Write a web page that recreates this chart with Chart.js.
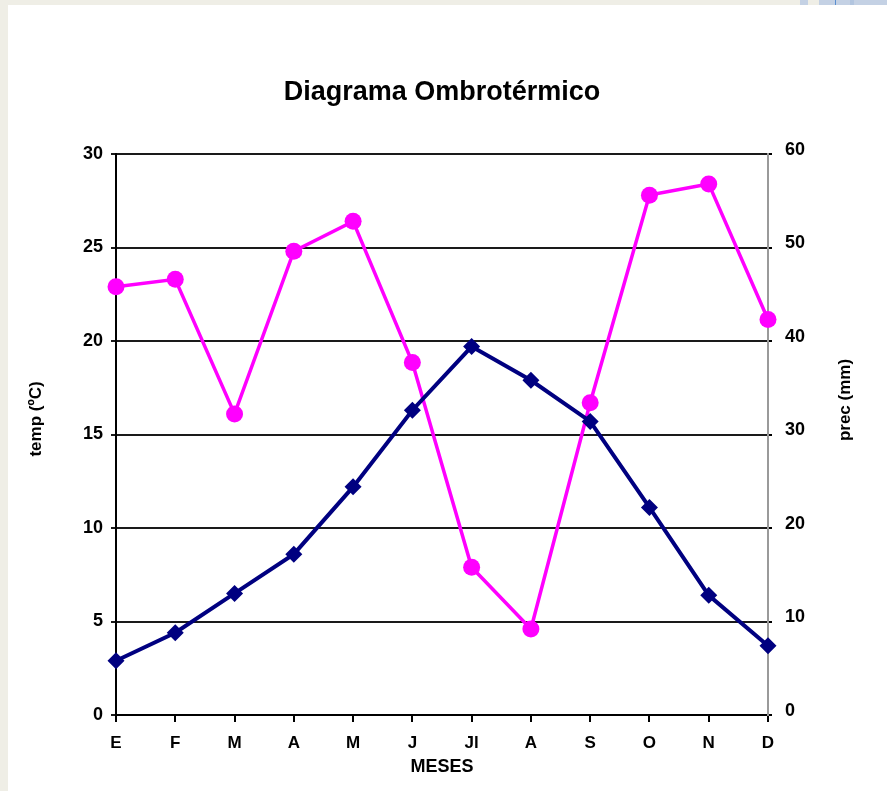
<!DOCTYPE html>
<html lang="es">
<head>
<meta charset="utf-8">
<title>Diagrama Ombrotérmico</title>
<script src="https://cdn.jsdelivr.net/npm/chart.js@4/dist/chart.umd.min.js"></script>
<style>
  html, body { margin: 0; padding: 0; }
  body { width: 887px; height: 791px; background: #efeee6; position: relative; overflow: hidden; }
  #panel { position: absolute; left: 8px; top: 5px; right: 0; bottom: 0; background: #ffffff; }
  .tab { position: absolute; top: 0; height: 5px; background: #c4d1e4; }
  #c { position: absolute; left: 0; top: 0; }
</style>
</head>
<body>
<div id="panel"></div>
<div class="tab" style="left:800px;width:8px"></div>
<div class="tab" style="left:819px;width:68px"></div>
<div class="tab" style="left:835px;width:1px;background:#5a8fd0"></div>
<div class="tab" style="left:850px;width:4px;background:#b2c5df"></div>
<canvas id="c" width="887" height="791"></canvas>
<script>
// Months of the year (Spanish initials)
const months = ['E', 'F', 'M', 'A', 'M', 'J', 'Jl', 'A', 'S', 'O', 'N', 'D'];
// Mean monthly temperature, °C (left axis)
const temperature = [2.9, 4.4, 6.5, 8.6, 12.2, 16.3, 19.7, 17.9, 15.7, 11.1, 6.4, 3.7];
// Monthly precipitation, mm (right axis)
const precipitation = [45.8, 46.6, 32.2, 49.6, 52.8, 37.7, 15.8, 9.2, 33.4, 55.6, 56.8, 42.3];
// Axis ranges
const tempTicks = { min: 0, max: 30, step: 5 };
const precTicks = { min: 0, max: 60, step: 10 };

const FONT = '"Liberation Sans", Arial, Helvetica, sans-serif';
const INK = '#000000';

// Rotated captions for the two value axes, both reading bottom to top
const axisCaptions = {
  id: 'axisCaptions',
  afterDraw(chart) {
    const ctx = chart.ctx;
    const items = [
      { text: 'temp (ºC)', x: 36, y: 419 },
      { text: 'prec (mm)', x: 845, y: 400 }
    ];
    ctx.save();
    ctx.fillStyle = INK;
    ctx.font = 'bold 17px ' + FONT;
    ctx.textAlign = 'center';
    ctx.textBaseline = 'middle';
    for (const it of items) {
      ctx.save();
      ctx.translate(it.x, it.y);
      ctx.rotate(-Math.PI / 2);
      ctx.fillText(it.text, 0, 0);
      ctx.restore();
    }
    ctx.restore();
  }
};

new Chart(document.getElementById('c'), {
  type: 'line',
  data: {
    labels: months,
    datasets: [
      {
        label: 'temp',
        data: temperature,
        yAxisID: 'y',
        borderColor: '#000080',
        backgroundColor: '#000080',
        borderWidth: 4,
        pointStyle: 'rectRot',
        pointRadius: 8.5,
        pointBorderWidth: 0,
        tension: 0,
        clip: false
      },
      {
        label: 'prec',
        data: precipitation,
        yAxisID: 'y1',
        borderColor: '#ff00ff',
        backgroundColor: '#ff00ff',
        borderWidth: 3.5,
        pointStyle: 'circle',
        pointRadius: 8.5,
        pointBorderWidth: 0,
        tension: 0,
        clip: false
      }
    ]
  },
  options: {
    responsive: false,
    animation: false,
    devicePixelRatio: 1,
    layout: { padding: { left: 26, right: 0, top: 76, bottom: 12 } },
    plugins: {
      legend: { display: false },
      tooltip: { enabled: false },
      title: {
        display: true,
        fullSize: false,
        text: 'Diagrama Ombrotérmico',
        color: INK,
        font: { family: FONT, size: 27, weight: 'bold', lineHeight: 1.2 },
        padding: { top: 0, bottom: 45.6 }
      }
    },
    scales: {
      x: {
        type: 'category',
        offset: false,
        afterFit(scale) { scale.height = 64; },
        border: { display: true, color: INK, width: 2 },
        grid: { display: true, drawOnChartArea: false, drawTicks: true, tickLength: 7, color: INK, lineWidth: 2 },
        ticks: { color: INK, padding: 11, maxRotation: 0, autoSkip: false, font: { family: FONT, size: 17, weight: 'bold' } },
        title: { display: true, text: 'MESES', color: INK, padding: { top: 0, bottom: 1 }, font: { family: FONT, size: 18, weight: 'bold', lineHeight: 1.2 } }
      },
      y: {
        position: 'left',
        min: tempTicks.min,
        max: tempTicks.max,
        afterFit(scale) { scale.width = 90; },
        border: { display: true, color: INK, width: 2 },
        grid: { display: true, drawOnChartArea: true, drawTicks: true, tickLength: 5, color: '#1a1a1a', lineWidth: 2 },
        ticks: { stepSize: tempTicks.step, color: INK, padding: 8, font: { family: FONT, size: 18, weight: 'bold' } }
      },
      y1: {
        position: 'right',
        min: precTicks.min,
        max: precTicks.max,
        afterFit(scale) { scale.width = 119; },
        border: { display: true, color: '#9a9a9a', width: 2 },
        grid: { display: true, drawOnChartArea: false, drawTicks: true, tickLength: 4, color: INK, lineWidth: 2 },
        ticks: { stepSize: precTicks.step, color: INK, padding: 13, labelOffset: -4, font: { family: FONT, size: 18, weight: 'bold' } }
      }
    }
  },
  plugins: [axisCaptions]
});
</script>
</body>
</html>
